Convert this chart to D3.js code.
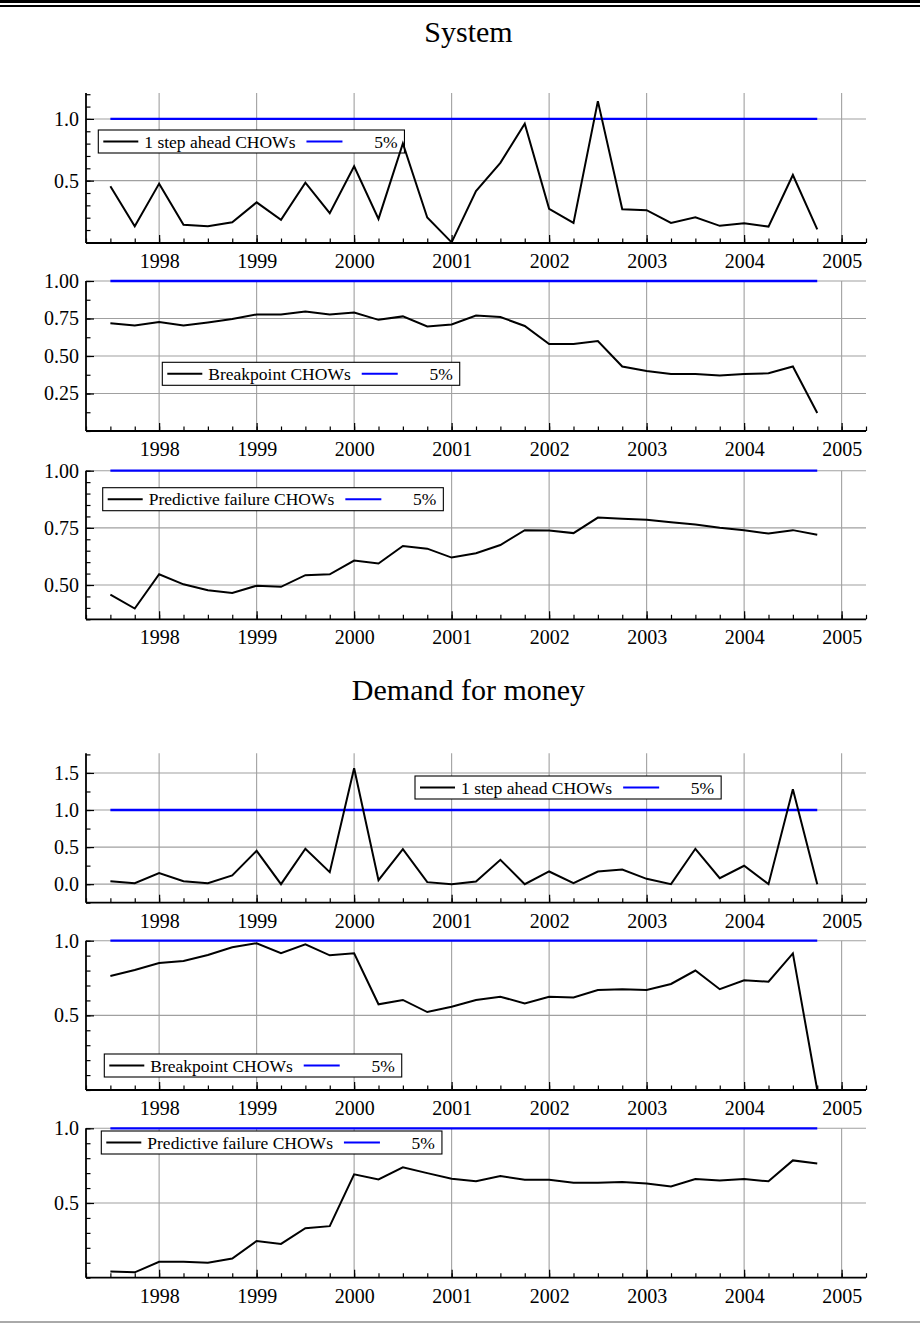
<!DOCTYPE html>
<html lang="en">
<head>
<meta charset="utf-8">
<title>Recursive Chow tests</title>
<script src="https://d3js.org/d3.v7.min.js"></script>
<style>
  body { margin: 0; background: #fff; }
  svg text { font-family: "Liberation Serif", "Times New Roman", serif; fill: #000; }
</style>
</head>
<body>
<script>
// quarterly observations, 1997(3) .. 2004(4)
var dates = [1997.5, 1997.75, 1998, 1998.25, 1998.5, 1998.75, 1999, 1999.25, 1999.5, 1999.75,
             2000, 2000.25, 2000.5, 2000.75, 2001, 2001.25, 2001.5, 2001.75, 2002, 2002.25,
             2002.5, 2002.75, 2003, 2003.25, 2003.5, 2003.75, 2004, 2004.25, 2004.5, 2004.75];
var yearTicks = [1998, 1999, 2000, 2001, 2002, 2003, 2004, 2005];
var crit5 = 1.0; // tests are scaled by the 5% critical value

// System
var sys1step = [0.454, 0.130, 0.476, 0.142, 0.130, 0.163, 0.324, 0.182, 0.484, 0.236,
                0.617, 0.190, 0.802, 0.201, 0.000, 0.416, 0.644, 0.962, 0.272, 0.158,
                1.144, 0.269, 0.261, 0.158, 0.204, 0.134, 0.155, 0.128, 0.546, 0.106];
var sysBreak = [0.719, 0.704, 0.726, 0.704, 0.724, 0.746, 0.777, 0.777, 0.797, 0.777,
                0.790, 0.741, 0.764, 0.697, 0.710, 0.770, 0.760, 0.700, 0.580, 0.580,
                0.600, 0.430, 0.400, 0.380, 0.380, 0.370, 0.380, 0.385, 0.430, 0.120];
var sysForecast = [0.458, 0.397, 0.547, 0.503, 0.477, 0.465, 0.497, 0.492, 0.543, 0.547,
                   0.607, 0.594, 0.671, 0.659, 0.620, 0.639, 0.675, 0.740, 0.738, 0.727,
                   0.795, 0.790, 0.785, 0.775, 0.765, 0.750, 0.740, 0.725, 0.740, 0.720];

// Demand for money
var dfm1step = [0.040, 0.013, 0.149, 0.040, 0.013, 0.117, 0.450, 0.000, 0.477, 0.162,
                1.563, 0.054, 0.473, 0.027, 0.000, 0.036, 0.329, 0.000, 0.171, 0.013,
                0.171, 0.198, 0.072, 0.000, 0.477, 0.081, 0.248, 0.000, 1.279, 0.000];
var dfmBreak = [0.764, 0.804, 0.851, 0.864, 0.904, 0.956, 0.983, 0.916, 0.976, 0.902,
                0.916, 0.574, 0.603, 0.522, 0.558, 0.603, 0.625, 0.580, 0.625, 0.620,
                0.670, 0.675, 0.670, 0.710, 0.800, 0.675, 0.735, 0.725, 0.915, 0.000];
var dfmForecast = [0.042, 0.036, 0.107, 0.107, 0.100, 0.128, 0.246, 0.226, 0.331, 0.345,
                   0.692, 0.658, 0.739, 0.700, 0.662, 0.645, 0.680, 0.655, 0.655, 0.635,
                   0.635, 0.640, 0.630, 0.610, 0.660, 0.650, 0.660, 0.645, 0.785, 0.765];

var labels1 = ["1 step ahead CHOWs", "Breakpoint CHOWs", "Predictive failure CHOWs"];
var critLabel = "5%";
var titles = ["System", "Demand for money"];

var W = 920, H = 1326;
var left = 86, right = 866;

var svg = d3.select("body").append("svg")
  .attr("width", W)
  .attr("height", H);

// double rule at top, thin rule at bottom
svg.append("line").attr("x1", 0).attr("x2", W).attr("y1", 1.6).attr("y2", 1.6)
  .attr("stroke", "#000").attr("stroke-width", 3);
svg.append("line").attr("x1", 0).attr("x2", W).attr("y1", 6).attr("y2", 6)
  .attr("stroke", "#000").attr("stroke-width", 1.8);
svg.append("line").attr("x1", 0).attr("x2", W).attr("y1", 1322).attr("y2", 1322)
  .attr("stroke", "#555").attr("stroke-width", 1);

svg.append("text").attr("x", 468.5).attr("y", 41.5).attr("text-anchor", "middle")
  .style("font-size", "30px").text(titles[0]);
svg.append("text").attr("x", 468.5).attr("y", 700).attr("text-anchor", "middle")
  .style("font-size", "30px").text(titles[1]);

var x = d3.scaleLinear().domain([1997.25, 2005.25]).range([left, right]);
var quarterTicks = d3.range(1997.25, 2005.26, 0.25);

// one entry per panel: series, y domain, ticks and where it sits on the page
var panels = [
  {vals: sys1step,    label: labels1[0], top: 93,    bottom: 243,    dom: [-0.005, 1.21], major: [0.5, 1.0],             minor: 0.1,   fmt: ".1f", leg: [98.3, 130]},
  {vals: sysBreak,    label: labels1[1], top: 281,   bottom: 431,    dom: [0, 1.0],       major: [0.25, 0.5, 0.75, 1.0], minor: 0.125, fmt: ".2f", leg: [162.3, 362.3]},
  {vals: sysForecast, label: labels1[2], top: 470.7, bottom: 619.3,  dom: [0.35, 1.0],    major: [0.5, 0.75, 1.0],       minor: 0.05,  fmt: ".2f", leg: [102.7, 487.7]},
  {vals: dfm1step,    label: labels1[0], top: 753.3, bottom: 902.7,  dom: [-0.25, 1.765], major: [0, 0.5, 1.0, 1.5],     minor: 0.25,  fmt: ".1f", leg: [415, 776]},
  {vals: dfmBreak,    label: labels1[1], top: 940.7, bottom: 1090,   dom: [0, 1.0],       major: [0.5, 1.0],             minor: 0.1,   fmt: ".1f", leg: [104.3, 1054]},
  {vals: dfmForecast, label: labels1[2], top: 1128.3, bottom: 1277.7, dom: [0, 1.0],      major: [0.5, 1.0],             minor: 0.1,   fmt: ".1f", leg: [101.3, 1131]}
];

var gridColor = "#a0a0a0";

panels.forEach(function(p) {
  var y = d3.scaleLinear().domain(p.dom).range([p.bottom, p.top]);
  var g = svg.append("g");

  // grid
  g.selectAll(".vgrid").data(yearTicks).enter().append("line")
    .attr("x1", function(d) { return x(d); })
    .attr("x2", function(d) { return x(d); })
    .attr("y1", p.top).attr("y2", p.bottom)
    .attr("stroke", gridColor).attr("stroke-width", 1.1);
  g.selectAll(".hgrid").data(p.major).enter().append("line")
    .attr("x1", left).attr("x2", right)
    .attr("y1", function(d) { return y(d); })
    .attr("y2", function(d) { return y(d); })
    .attr("stroke", gridColor).attr("stroke-width", 1.1);

  // minor ticks on y, every p.minor inside the domain
  var yMinor = d3.range(Math.ceil(p.dom[0] / p.minor - 1e-6), Math.floor(p.dom[1] / p.minor + 1e-6) + 1)
    .map(function(k) { return +(k * p.minor).toFixed(4); });

  g.append("g").attr("transform", "translate(" + left + ",0)")
    .call(d3.axisLeft(y).tickValues(yMinor).tickSizeInner(-4.5).tickSizeOuter(0).tickFormat(""))
    .call(function(a) { a.select(".domain").remove(); a.selectAll("line").attr("stroke-width", 1.2); });

  var ya = g.append("g").attr("transform", "translate(" + left + ",0)")
    .call(d3.axisLeft(y).tickValues(p.major).tickSizeInner(-8).tickSizeOuter(0)
      .tickPadding(7).tickFormat(d3.format(p.fmt)));
  ya.select(".domain").remove();
  ya.selectAll("text").style("font-size", "20px").style("font-family", "'Liberation Serif', serif");
  ya.selectAll("line").attr("stroke-width", 1.2);

  g.append("g").attr("transform", "translate(0," + p.bottom + ")")
    .call(d3.axisBottom(x).tickValues(quarterTicks).tickSizeInner(-4.5).tickSizeOuter(0).tickFormat(""))
    .call(function(a) { a.select(".domain").remove(); a.selectAll("line").attr("stroke-width", 1.2); });

  var xa = g.append("g").attr("transform", "translate(0," + p.bottom + ")")
    .call(d3.axisBottom(x).tickValues(yearTicks).tickSizeInner(-8).tickSizeOuter(0)
      .tickPadding(11).tickFormat(d3.format("d")));
  xa.select(".domain").remove();
  xa.selectAll("text").style("font-size", "20px").style("font-family", "'Liberation Serif', serif");
  xa.selectAll("line").attr("stroke-width", 1.2);

  // axis lines (left and bottom only)
  g.append("line").attr("x1", left).attr("x2", left).attr("y1", p.top).attr("y2", p.bottom)
    .attr("stroke", "#000").attr("stroke-width", 1.8);
  g.append("line").attr("x1", left).attr("x2", right).attr("y1", p.bottom).attr("y2", p.bottom)
    .attr("stroke", "#000").attr("stroke-width", 1.8);

  // legend
  var lg = g.append("g").attr("transform", "translate(" + p.leg[0] + "," + p.leg[1] + ")");
  var box = lg.append("rect").attr("y", 0).attr("height", 23)
    .attr("fill", "#fff").attr("stroke", "#000").attr("stroke-width", 1.1);
  lg.append("line").attr("x1", 5).attr("x2", 40).attr("y1", 11.5).attr("y2", 11.5)
    .attr("stroke", "#000").attr("stroke-width", 2);
  var t1 = lg.append("text").attr("x", 46).attr("y", 17.5).style("font-size", "17.5px").text(p.label);
  var tw = t1.node().getComputedTextLength();
  var bx = 46 + tw + 11;
  lg.append("line").attr("x1", bx).attr("x2", bx + 36).attr("y1", 11.5).attr("y2", 11.5)
    .attr("stroke", "#0000ff").attr("stroke-width", 2);
  lg.append("text").attr("x", bx + 91).attr("y", 17.5).attr("text-anchor", "end")
    .style("font-size", "17.5px").text(critLabel);
  box.attr("width", bx + 98);

  // 5% critical line and the test sequence
  g.append("line")
    .attr("x1", x(dates[0])).attr("x2", x(dates[dates.length - 1]))
    .attr("y1", y(crit5)).attr("y2", y(crit5))
    .attr("stroke", "#0000ff").attr("stroke-width", 2.3);

  var line = d3.line()
    .x(function(d, i) { return x(dates[i]); })
    .y(function(d) { return y(d); });
  g.append("path").datum(p.vals)
    .attr("d", line)
    .attr("fill", "none")
    .attr("stroke", "#000")
    .attr("stroke-width", 2)
    .attr("stroke-linejoin", "miter");
});
</script>
</body>
</html>
